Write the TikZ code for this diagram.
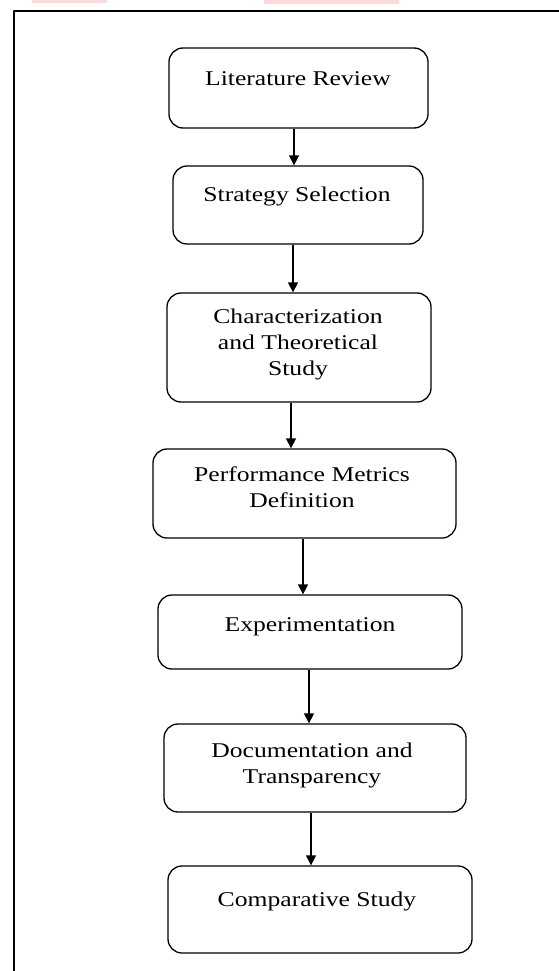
\documentclass[tikz,border=0pt]{standalone}
\usepackage{fontspec}
\setmainfont{Liberation Serif}[FakeStretch=1.22]
\usetikzlibrary{arrows.meta}
\begin{document}
\begin{tikzpicture}[x=1pt,y=-1pt,>={Triangle[width=10pt,length=10pt]},line join=round,
	box/.style={draw,rounded corners=14pt,line width=1.3pt,inner sep=0pt},
	txt/.style={align=center,anchor=base,inner sep=0pt,font=\fontsize{21}{26}\selectfont}]
	\useasboundingbox (0,0) rectangle (559,971);
	\fill[red!15] (32,0) rectangle (107,3) (264,0) rectangle (399,4); % watermark rest
	\draw[line width=1.8pt] (14,971)--(14,11)--(559,11); % frame
	% boxes: name/left/right/top/bottom
	\foreach \n/\xl/\xr/\yt/\yb in {lit/169/428/48/128,sel/173/423/166/244,cha/167/431/293/402,per/153/456/449/538,exp/158/462/595/669,doc/164/466/724/812,com/168/472/866/953}
	\node[box,minimum width=\xr-\xl,minimum height=\yb-\yt] (\n) at ({(\xl+\xr)/2},{(\yt+\yb)/2}) {};
	% texts, base = last line
	\node[txt] (tlit) at (298,86) {Literature Review};
	\node[txt] (tsel) at (297,201) {Strategy Selection};
	\node[txt] (tcha) at (298,375) {Characterization\\and Theoretical\\Study};
	\node[txt] (tper) at (302,507) {Performance Metrics\\Definition};
	\node[txt] (texp) at (310,631) {Experimentation};
	\node[txt] (tdoc) at (312,783) {Documentation and\\Transparency};
	\node[txt] (tcom) at (317,906) {Comparative Study};
	\foreach \a/\b/\x in {lit/sel/294,sel/cha/293,cha/per/291,per/exp/303,exp/doc/309,doc/com/311}
	\draw[->,line width=1.3pt] (\a.south -| \x,0)--(\b.north -| \x,0);
\end{tikzpicture}
\end{document}
